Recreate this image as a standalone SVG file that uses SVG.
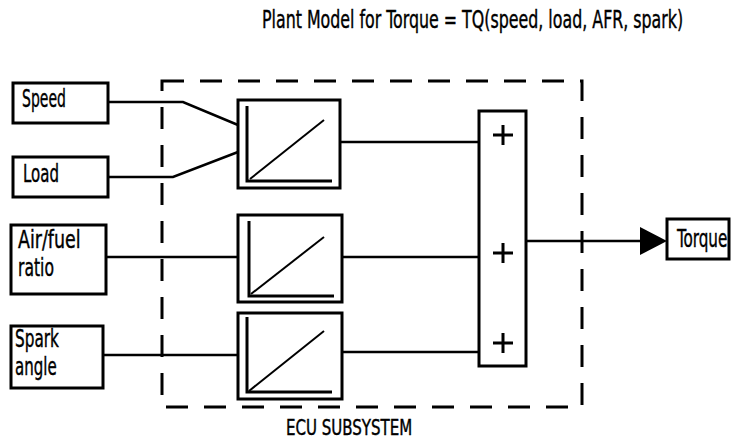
<svg xmlns="http://www.w3.org/2000/svg" width="731" height="439" viewBox="0 0 731 439">
<style>
.t{font-family:"DejaVu Sans Condensed","Liberation Sans Narrow","Liberation Sans",sans-serif;font-size:24px;fill:#000;stroke:#000;stroke-width:0.4}
.box{fill:#fff;stroke:#000;stroke-width:3}
.ax{fill:none;stroke:#000;stroke-width:3}
.dg{fill:none;stroke:#000;stroke-width:2}
.ln{fill:none;stroke:#000;stroke-width:2.5}
.pl{fill:none;stroke:#000;stroke-width:3}
</style>
<rect width="731" height="439" fill="#fff"/>
<text class="t" transform="translate(262,28) scale(0.72,1)" x="0" y="0" textLength="585" lengthAdjust="spacingAndGlyphs">Plant Model for Torque = TQ(speed, load, AFR, spark)</text>
<g id="ecu">
<rect x="162" y="81" width="420" height="326" fill="none" stroke="#000" stroke-width="3" stroke-dasharray="22 16"/>
<text class="t" style="font-size:20.5px" transform="translate(286,434.5) scale(0.76,1)" x="0" y="0" textLength="166" lengthAdjust="spacingAndGlyphs">ECU SUBSYSTEM</text>
</g>
<g id="connectors">
<polyline class="ln" points="108,102 183,102 238,125"/>
<polyline class="ln" points="108,177 173,177 238,152"/>
<line class="ln" x1="106" y1="257" x2="240" y2="257"/>
<line class="ln" x1="103" y1="355" x2="238" y2="355"/>
<line class="ln" x1="340" y1="142" x2="479" y2="142"/>
<line class="ln" x1="342" y1="257" x2="479" y2="257"/>
<line class="ln" x1="342" y1="352" x2="479" y2="352"/>
<line class="ln" x1="526" y1="241" x2="642" y2="241"/>
<polygon points="640,227 640,255 667,241" fill="#000"/>
</g>
<g id="speed"><rect class="box" x="13" y="83" width="95" height="40"/><text class="t" transform="translate(22,107) scale(0.72,1)" x="0" y="0" textLength="61" lengthAdjust="spacingAndGlyphs">Speed</text></g>
<g id="load"><rect class="box" x="13" y="157" width="95" height="40"/><text class="t" transform="translate(23,182) scale(0.72,1)" x="0" y="0" textLength="50" lengthAdjust="spacingAndGlyphs">Load</text></g>
<g id="afr"><rect class="box" x="11" y="225" width="95" height="69"/><text class="t" transform="translate(18,248) scale(0.72,1)" x="0" y="0" textLength="87" lengthAdjust="spacingAndGlyphs">Air/fuel</text><text class="t" transform="translate(18,276) scale(0.72,1)" x="0" y="0" textLength="50" lengthAdjust="spacingAndGlyphs">ratio</text></g>
<g id="spark"><rect class="box" x="11" y="326" width="92" height="62"/><text class="t" transform="translate(15,347) scale(0.72,1)" x="0" y="0" textLength="61" lengthAdjust="spacingAndGlyphs">Spark</text><text class="t" transform="translate(15,375) scale(0.72,1)" x="0" y="0" textLength="58" lengthAdjust="spacingAndGlyphs">angle</text></g>
<g id="map1"><rect class="box" x="238" y="100" width="102" height="88"/><polyline class="ax" points="247,106 247,181 332,181"/><line class="dg" x1="250" y1="179" x2="324" y2="120"/></g>
<g id="map2"><rect class="box" x="238" y="215" width="104" height="87"/><polyline class="ax" points="249,221 249,296 334,296"/><line class="dg" x1="251" y1="294" x2="324" y2="237"/></g>
<g id="map3"><rect class="box" x="238" y="313" width="104" height="86"/><polyline class="ax" points="247,317 247,392 332,392"/><line class="dg" x1="249" y1="391" x2="324" y2="331"/></g>
<g id="sum"><rect class="box" x="479" y="111" width="47" height="255"/>
<path class="pl" d="M493,135 H513 M503,125 V145 M493,253 H513 M503,243 V263 M493,343 H513 M503,333 V353"/></g>
<g id="torque"><rect class="box" x="667" y="219" width="62" height="40"/><text class="t" transform="translate(677,247) scale(0.72,1)" x="0" y="0" textLength="70" lengthAdjust="spacingAndGlyphs">Torque</text></g>
</svg>
